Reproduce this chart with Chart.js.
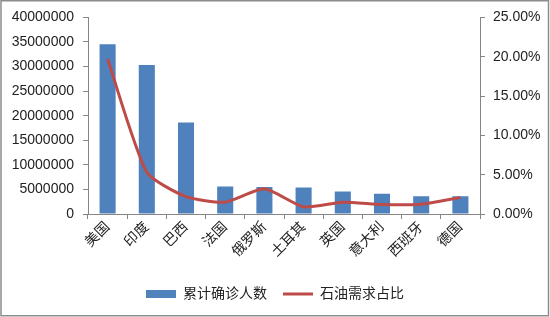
<!DOCTYPE html>
<html>
<head>
<meta charset="utf-8">
<script src="https://cdn.jsdelivr.net/npm/chart.js@4/dist/chart.umd.min.js"></script>
<style>
  html, body { margin: 0; padding: 0; background: #fff; }
  #wrap { position: relative; width: 550px; height: 317px; }
</style>
</head>
<body>
<div id="wrap"><canvas id="oilChart" width="550" height="317"></canvas></div>
<script>
// Data
const countries = ['美国', '印度', '巴西', '法国', '俄罗斯', '土耳其', '英国', '意大利', '西班牙', '德国'];
const totalCases = [34550000, 30300000, 18600000, 5600000, 5500000, 5400000, 4600000, 4100000, 3600000, 3600000];
const oilShare = [0.197, 0.053, 0.022, 0.015, 0.032, 0.009, 0.015, 0.012, 0.0125, 0.021];

const fontFamily = "'Liberation Sans', 'Noto Sans CJK SC', sans-serif";
const axisGray = '#868686';

// Outer frame like the Excel chart border
const framePlugin = {
    id: 'frame',
    afterDraw(chart) {
        const ctx = chart.ctx;
        ctx.save();
        ctx.strokeStyle = '#8c8c8c';
        ctx.lineWidth = 1.5;
        ctx.strokeRect(1, 0.75, 547.5, 315);
        ctx.restore();
    }
};

const ctx = document.getElementById('oilChart').getContext('2d');
const oilChart = new Chart(ctx, {
    data: {
        labels: countries,
        datasets: [{
            type: 'line',
            label: '石油需求占比',
            data: oilShare,
            yAxisID: 'y1',
            borderColor: '#BE4B48',
            backgroundColor: '#BE4B48',
            borderWidth: 3,
            tension: 0.2,
            pointRadius: 0,
            pointStyle: 'line',
            order: 0
        }, {
            type: 'bar',
            label: '累计确诊人数',
            data: totalCases,
            yAxisID: 'y',
            backgroundColor: '#4F81BD',
            borderWidth: 0,
            barPercentage: 0.41,
            categoryPercentage: 1,
            pointStyle: 'rect',
            order: 1
        }]
    },
    options: {
        responsive: false,
        animation: false,
        layout: {
            padding: { top: 17, left: 0, right: 0, bottom: 6 }
        },
        plugins: {
            legend: {
                position: 'bottom',
                reverse: true,
                labels: {
                    usePointStyle: true,
                    pointStyleWidth: 30,
                    boxHeight: 8,
                    padding: 16,
                    color: '#222',
                    font: { family: fontFamily, size: 14 }
                }
            },
            tooltip: { enabled: false }
        },
        scales: {
            x: {
                grid: {
                    display: true,
                    offset: true,
                    drawOnChartArea: false,
                    tickLength: 5,
                    color: axisGray
                },
                border: { color: axisGray },
                ticks: {
                    color: '#222',
                    maxRotation: 45,
                    minRotation: 45,
                    padding: 0,
                    font: { family: fontFamily, size: 14 }
                },
                afterFit: function(scale) {
                    scale.height = 57;
                }
            },
            y: {
                position: 'left',
                min: 0,
                max: 40000000,
                ticks: {
                    stepSize: 5000000,
                    padding: 9,
                    color: '#222',
                    font: { family: fontFamily, size: 14 },
                    callback: function(value) {
                        return String(value);
                    }
                },
                grid: {
                    drawOnChartArea: false,
                    tickLength: 5,
                    color: axisGray
                },
                border: { color: axisGray },
                afterFit: function(scale) {
                    scale.width = 88;
                }
            },
            y1: {
                position: 'right',
                min: 0,
                max: 0.25,
                ticks: {
                    stepSize: 0.05,
                    padding: 8,
                    color: '#222',
                    font: { family: fontFamily, size: 14 },
                    callback: function(value) {
                        return (value * 100).toFixed(2) + '%';
                    }
                },
                grid: {
                    drawOnChartArea: false,
                    tickLength: 5,
                    color: axisGray
                },
                border: { color: axisGray },
                afterFit: function(scale) {
                    scale.width = 70;
                }
            }
        }
    },
    plugins: [framePlugin]
});
</script>
</body>
</html>
